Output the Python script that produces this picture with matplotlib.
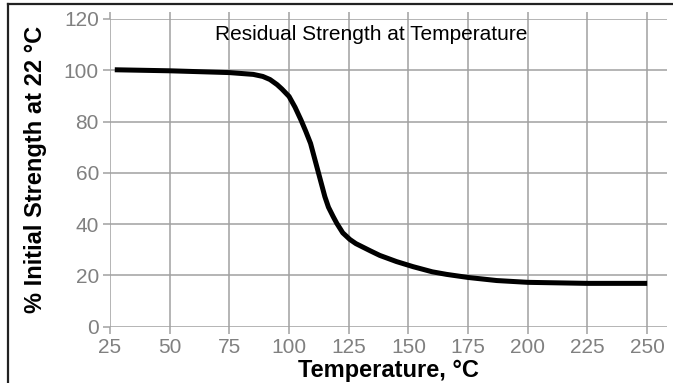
import matplotlib
matplotlib.use("Agg")
import matplotlib.pyplot as plt
from matplotlib.lines import Line2D

plt.rcParams['font.family'] = ['Liberation Sans', 'DejaVu Sans']

temperature = [27, 50, 75, 85, 89, 92, 95, 97, 100, 102.5, 105, 107, 109,
               110.5, 112, 113.5, 115, 116.5, 118.5, 120, 122.5, 125.5, 128,
               134, 138, 145, 152, 160, 166, 175, 187, 200, 225, 250]
strength = [100.2, 99.8, 99.1, 98.4, 97.6, 96.4, 94.4, 92.7, 89.8, 85.6,
            80.6, 76.2, 71.5, 66.3, 61.1, 55.9, 50.7, 46.6, 42.9, 40.3,
            36.6, 34.0, 32.4, 29.6, 27.8, 25.4, 23.4, 21.4, 20.4, 19.2,
            18.0, 17.3, 16.9, 16.9]
x_ticks = [25, 50, 75, 100, 125, 150, 175, 200, 225, 250]
y_ticks = [0, 20, 40, 60, 80, 100, 120]

W, H = 673, 383
fig = plt.figure(figsize=(W / 100, H / 100), dpi=100)
ax = fig.add_axes([110 / W, 1 - 326.7 / H, (667 - 110) / W, (326.7 - 19) / H])

ax.plot(temperature, strength, color='black', lw=3.6, solid_capstyle='butt',
        solid_joinstyle='round')

ax.set_xlim(25, 258.3)
ax.set_ylim(0, 120)
ax.set_xticks(x_ticks)
ax.set_yticks(y_ticks)
ax.grid(True, color='#a0a0a0', lw=1.1)
ax.set_axisbelow(True)
for s in ax.spines.values():
    s.set_visible(False)
ax.tick_params(axis='x', direction='out', length=5, width=1.1, color='#a0a0a0',
               labelcolor='#808080', labelsize=15, pad=3, top=True)
ax.tick_params(axis='y', direction='out', length=5, width=1.1, color='#a0a0a0',
               labelcolor='#808080', labelsize=15, pad=3)

fig.text(371 / W, 1 - 40 / H, 'Residual Strength at Temperature', ha='center',
         va='baseline', fontsize=15, color='black')
fig.text(36 / W, 1 - 169 / H, '% Initial Strength at 22 °C', rotation=90,
         ha='center', va='center', fontsize=17, fontweight='bold')
fig.text(388 / W, 1 - 377 / H, 'Temperature, °C', ha='center', va='baseline',
         fontsize=17, fontweight='bold')

# frame lines at the cropped edges
fig.add_artist(Line2D([8 / W, 8 / W], [0, 1 - 4 / H], color='#222222', lw=1.6,
                      transform=fig.transFigure))
fig.add_artist(Line2D([8 / W, 1], [1 - 4 / H, 1 - 4 / H], color='#222222', lw=1.6,
                      transform=fig.transFigure))

fig.savefig('out.png', dpi=100)
